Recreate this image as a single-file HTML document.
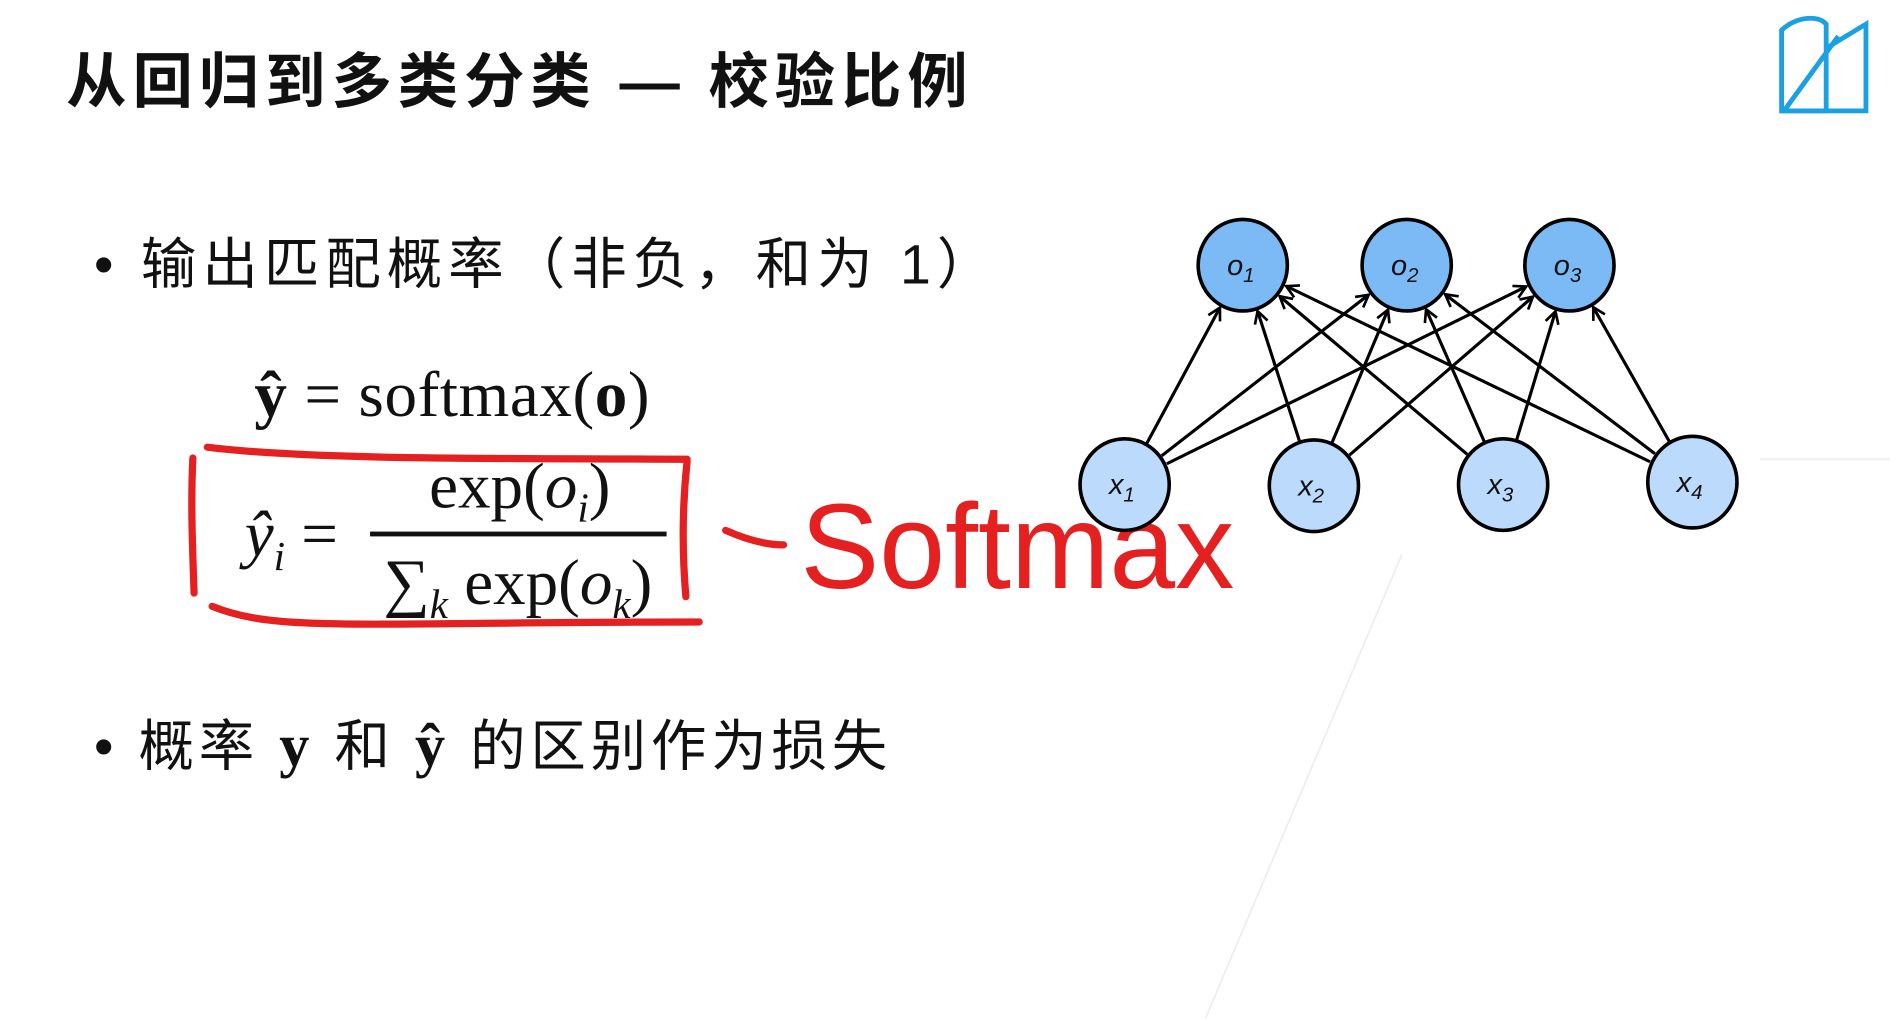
<!DOCTYPE html>
<html><head><meta charset="utf-8"><style>
html,body{margin:0;padding:0;background:#fff;width:1890px;height:1020px;overflow:hidden}
#w{position:absolute;left:0;top:0;width:1568px;height:846px;transform:scale(1.2054);transform-origin:0 0}
.t{position:absolute;white-space:nowrap;font-family:"Liberation Sans","Noto Sans CJK SC",sans-serif;color:#111}
.s{font-family:"Liberation Serif",serif}
</style></head><body><div id="w">
<div class="t" style="left:55px;top:28px;font-size:50px;font-weight:bold;letter-spacing:5px">从回归到多类分类 — 校验比例</div>
<div class="t" style="left:78px;top:183px;font-size:46px;letter-spacing:5px">• 输出匹配概率（非负，和为 1）</div>
<div class="t" style="left:78px;top:583px;font-size:46px;letter-spacing:4px">• 概率 <span class="s" style="font-weight:bold;font-size:50px">y</span> 和 <span class="s" style="font-weight:bold;font-size:50px">ŷ</span> 的区别作为损失</div>
<div class="t s" style="left:211px;top:296px;font-size:54px;letter-spacing:0.5px"><b>ŷ</b> = softmax(<b>o</b>)</div>
<div class="t s" style="left:203px;top:412px;font-size:54px"><i>ŷ<sub style="font-size:34px">i</sub></i> =</div>
<div class="t s" style="left:356px;top:372px;font-size:54px">exp(<i>o<sub style="font-size:34px">i</sub></i>)</div>
<div class="t s" style="left:318px;top:452px;font-size:54px">∑<sub style="font-size:34px"><i>k</i></sub> exp(<i>o<sub style="font-size:34px">k</sub></i>)</div>
<div style="position:absolute;left:307px;top:441px;width:246px;height:4px;background:#111"></div>
<svg width="1568" height="846" style="position:absolute;left:0;top:0">
<defs><marker id="a" markerWidth="14" markerHeight="14" refX="12" refY="7" orient="auto" markerUnits="userSpaceOnUse"><path d="M2,1.5 L12,7 L2,12.5" fill="none" stroke="#000" stroke-width="2.2"/></marker></defs>
<g stroke="#e52020" stroke-width="6" fill="none" stroke-linecap="round">
<path d="M160,380 C158,420 160,460 161,492"/>
<path d="M172,371 C260,382 420,380 570,381"/>
<path d="M570,383 C566,420 566,460 569,495"/>
<path d="M176,503 C230,525 300,516 580,516"/>
<path d="M602,440 C620,448 635,452 650,452"/>
</g>
<text x="664" y="488" font-family="Liberation Sans,sans-serif" font-size="100" fill="#e52020" textLength="360" lengthAdjust="spacingAndGlyphs">Softmax</text>
<line x1="1460" y1="381" x2="1568" y2="381" stroke="#eee" stroke-width="1.5"/>
<line x1="1163" y1="460" x2="1000" y2="845" stroke="#eee" stroke-width="1.5"/>
<g stroke="#000" stroke-width="2.6" marker-end="url(#a)" id="edges"></g>
<g stroke="#000" stroke-width="3">
<ellipse cx="1031" cy="220" rx="37" ry="38" fill="#7cbaf5"/>
<ellipse cx="1167" cy="220" rx="37" ry="38" fill="#7cbaf5"/>
<ellipse cx="1302" cy="220" rx="37" ry="38" fill="#7cbaf5"/>
<ellipse cx="933" cy="402" rx="37" ry="38" fill="#bcdafc"/>
<ellipse cx="1090" cy="403" rx="37" ry="38" fill="#bcdafc"/>
<ellipse cx="1247" cy="402" rx="37" ry="38" fill="#bcdafc"/>
<ellipse cx="1404" cy="400" rx="37" ry="38" fill="#bcdafc"/>
</g>
<g font-family="Liberation Sans,sans-serif" font-style="italic" font-size="24" fill="#111">
<text x="1018" y="228">o<tspan font-size="17" dy="6">1</tspan></text>
<text x="1154" y="228">o<tspan font-size="17" dy="6">2</tspan></text>
<text x="1289" y="228">o<tspan font-size="17" dy="6">3</tspan></text>
<text x="920" y="410">x<tspan font-size="17" dy="6">1</tspan></text>
<text x="1077" y="411">x<tspan font-size="17" dy="6">2</tspan></text>
<text x="1234" y="410">x<tspan font-size="17" dy="6">3</tspan></text>
<text x="1391" y="408">x<tspan font-size="17" dy="6">4</tspan></text>
</g>
<g fill="none" stroke="#1ba1e2" stroke-width="4">
<path d="M1478,92 L1478,25 C1490,14 1508,12 1515,20 L1515,92 Z"/>
<path d="M1515,40 L1548,20 L1548,92 L1480,92 L1525,30"/>
</g>
</svg>
<script>
var O=[[1031,220],[1167,220],[1302,220]],X=[[933,402],[1090,403],[1247,402],[1404,400]],g=document.getElementById('edges'),s='';
X.forEach(function(x){O.forEach(function(o){var dx=o[0]-x[0],dy=o[1]-x[1],L=Math.hypot(dx,dy),ux=dx/L,uy=dy/L;
s+='<line x1="'+(x[0]+ux*39)+'" y1="'+(x[1]+uy*39)+'" x2="'+(o[0]-ux*40)+'" y2="'+(o[1]-uy*40)+'"/>';});});
g.innerHTML=s;
</script>
</div></body></html>
